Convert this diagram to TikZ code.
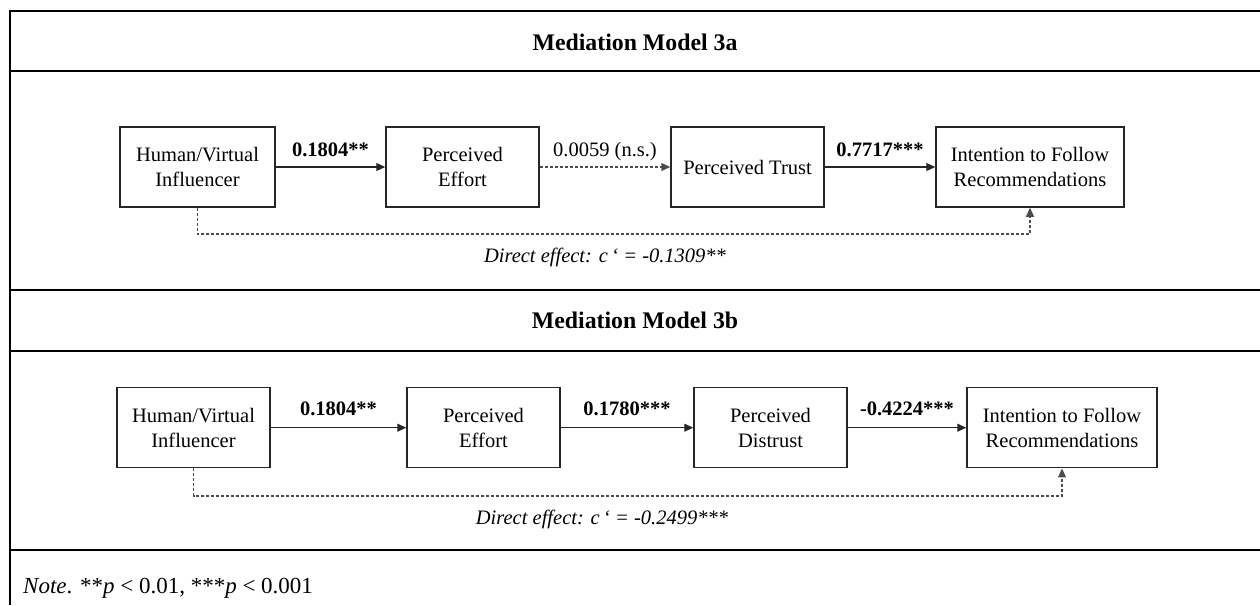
\documentclass[tikz,border=0pt]{standalone}
\usepackage{fontspec}
\setmainfont{Liberation Serif}
\usetikzlibrary{arrows.meta,calc}
\begin{document}
\begin{tikzpicture}[x=1pt,y=-1pt,
  rule/.style={line width=2.2pt,black},
  varbox/.style={draw=black!85,line width=1.5pt,align=center,minimum height=80pt,inner sep=0pt,
    font=\fontsize{20.5}{25}\selectfont},
  path/.style={draw=black!85,line width=1.1pt,-{Triangle[length=9pt,width=8pt]}},
  direct/.style={draw=black!70,line width=1.1pt,dash pattern=on 3pt off 2pt,-{Triangle[length=9pt,width=8pt]}},
  coef/.style={font=\fontsize{20.5}{25}\selectfont\bfseries,inner sep=0pt},
  plain/.style={font=\fontsize{20.5}{25}\selectfont,inner sep=0pt},
  effect/.style={font=\fontsize{20.5}{25}\selectfont\itshape,inner sep=0pt,anchor=base},
  heading/.style={font=\fontsize{23.8}{28}\selectfont\bfseries,inner sep=0pt,anchor=base}]
\useasboundingbox (0,0) rectangle (1260,605);

% table frame
\draw[rule] (10,605) -- (10,11) -- (1260,11);
\draw[rule] (10,71) -- (1260,71);
\draw[rule] (10,290) -- (1260,290);
\draw[rule] (10,351) -- (1260,351);
\draw[rule] (10,550) -- (1260,550);

% ---------- Model 3a ----------
\node[heading] (ta) at (635,50) {Mediation Model 3a};
\node[varbox,minimum width=155pt] (a1) at (197.5,167) {Human/Virtual\\Influencer};
\node[varbox,minimum width=153pt] (a2) at (462.5,167) {Perceived\\Effort};
\node[varbox,minimum width=153pt] (a3) at (747.5,167) {Perceived Trust};
\node[varbox,minimum width=188pt] (a4) at (1030,167) {Intention to Follow\\Recommendations};

\draw[path] (a1) -- node[coef,anchor=base,yshift=11pt] (la1) {0.1804**} (a2);
\draw[direct] (a2) -- node[plain,anchor=base,yshift=11pt] (la2) {0.0059 (n.s.)} (a3);
\draw[path] (a3) -- node[coef,anchor=base,yshift=11pt] (la3) {0.7717***} (a4);

\coordinate (da) at (600,234);
\draw[direct] (a1.south) |- (da) -| (a4.south);
\node[effect] (ea) at (605,262) {Direct effect: c\,‘ = -0.1309**};

% ---------- Model 3b ----------
\node[heading] (tb) at (635,328) {Mediation Model 3b};
\node[varbox,minimum width=153pt] (b1) at (193.5,427.7) {Human/Virtual\\Influencer};
\node[varbox,minimum width=153pt] (b2) at (483.5,427.7) {Perceived\\Effort};
\node[varbox,minimum width=153pt] (b3) at (770.5,427.7) {Perceived\\Distrust};
\node[varbox,minimum width=190pt] (b4) at (1062,427.7) {Intention to Follow\\Recommendations};

\draw[path] (b1) -- node[coef,anchor=base,yshift=12pt] (lb1) {0.1804**} (b2);
\draw[path] (b2) -- node[coef,anchor=base,yshift=12pt] (lb2) {0.1780***} (b3);
\draw[path] (b3) -- node[coef,anchor=base,yshift=12pt] (lb3) {-0.4224***} (b4);

\coordinate (db) at (600,496);
\draw[direct] (b1.south) |- (db) -| (b4.south);
\node[effect] (eb) at (602,524) {Direct effect: c\,‘ = -0.2499***};

% ---------- note ----------
\node[plain,anchor=base west,font=\fontsize{23}{27}\selectfont] (note) at (23,593)
  {\textit{Note}. **\textit{p} < 0.01, ***\textit{p} < 0.001};
\end{tikzpicture}
\end{document}
